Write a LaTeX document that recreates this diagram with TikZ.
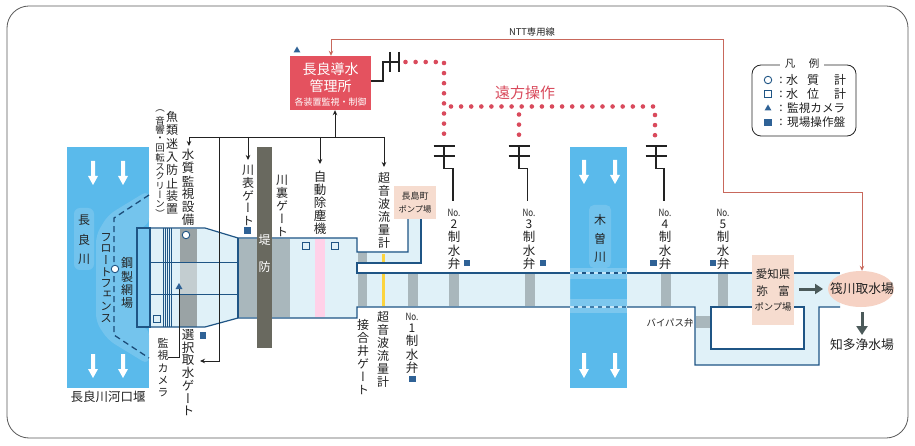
\documentclass[tikz,border=0pt]{standalone}
\usepackage{fontspec}
\setmainfont{Noto Sans CJK JP}
\newfontfamily\cjkv[RawFeature={+vert}]{Noto Sans CJK JP}
\usetikzlibrary{arrows.meta,calc,shapes.geometric}
\definecolor{river}{HTML}{5ABAEB}
\definecolor{riverlt}{HTML}{8BCDF0}
\definecolor{water}{HTML}{E0F1F8}
\definecolor{pipe}{HTML}{1F5585}
\definecolor{navy}{HTML}{2F6296}
\definecolor{gatebar}{HTML}{A9B7BC}
\definecolor{gatedark}{HTML}{9AA3A5}
\definecolor{dike}{HTML}{69695F}
\definecolor{office}{HTML}{E4525F}
\definecolor{pump}{HTML}{F6DCCF}
\definecolor{intake}{HTML}{F6D2C4}
\definecolor{ntt}{HTML}{C8685C}
\definecolor{remote}{HTML}{D94A5C}
\definecolor{ink}{HTML}{222222}
\definecolor{darrow}{HTML}{4C5A5A}
\newlength\vspitch
\def\vsloop#1{\ifx#1\vsend\else\vbox to\vspitch{\vss\hbox to 1.6em{\hss#1\hss}\vss}\expandafter\vsloop\fi}
\newcommand\vstack[2]{\setlength\vspitch{#1pt}\vbox{\offinterlineskip\vsloop#2\vsend}}
% name, x, centre y of first glyph, pitch, size, text
\newcommand\vlab[6]{\node[vlabel,yshift=#4pt/2] (#1) at (#2,#3) {\fontsize{#5pt}{#5pt}\selectfont\cjkv\vstack{#4}{#6}};}
\tikzset{
 vlabel/.style={anchor=north,inner sep=0pt,text=ink},
 hlabel/.style={inner sep=0pt,text=ink,font=\fontsize{12pt}{12pt}\selectfont},
 nolabel/.style={inner sep=0pt,text=ink,font=\fontsize{10pt}{10pt}\selectfont,xscale=.8},
 pipeline/.style={draw=pipe,line width=1.2pt},
 ctrl/.style={draw=ink,line width=.8pt},
 ctrlarrow/.style={ctrl,-{Stealth[length=5pt,width=4.5pt]}},
 dots/.style={draw=remote,line width=4.6pt,line cap=round,dash pattern=on 0pt off 10.1pt},
 panel/.style={fill=navy,draw=none,minimum size=6.5pt,inner sep=0pt},
 lvl/.style={draw=pipe,line width=.9pt,fill=none,minimum size=7pt,inner sep=0pt},
 qual/.style={circle,draw=pipe,line width=.9pt,fill=white,minimum size=7.5pt,inner sep=0pt},
 cam/.style={fill=navy,draw=none,regular polygon,inner sep=0pt},
 radio/.style={draw=ink,line width=1.1pt},
}
\newcommand\downarrowshape[3]{\fill[white] (#1-2,#2) -- (#1+2,#2) -- (#1+2,#3-9) -- (#1+5,#3-9) -- (#1,#3) -- (#1-5,#3-9) -- (#1-2,#3-9) -- cycle;}
\begin{document}
\begin{tikzpicture}[x=1pt,y=-1pt]
\useasboundingbox (0,0) rectangle (915,446);
\fill[white] (0,0) rectangle (915,446);
\draw[draw=gray!70!black,line width=.8pt,rounded corners=22pt] (7,6) rectangle (908,438);

% rivers
\fill[river] (67,147) rectangle (149,388);
\fill[riverlt,opacity=.5,rounded corners=6pt] (74,208) rectangle (94,270);
\fill[riverlt,opacity=.55,rounded corners=8pt] (149,190) -- (108,215) -- (96,235) -- (96,322) -- (108,340) -- (149,365) -- (149,327) -- (136,327) -- (136,228) -- (149,226) -- cycle;
\fill[river] (570,147) rectangle (627,388);
\fill[riverlt,opacity=.5,rounded corners=5pt] (589,205) rectangle (611,268);
\fill[riverlt,opacity=.7] (570,268) rectangle (627,279);
\fill[riverlt,opacity=.7] (570,299) rectangle (627,313);
\downarrowshape{93}{161}{185}
\downarrowshape{123}{161}{185}
\downarrowshape{93}{354}{378}
\downarrowshape{123}{354}{378}
\downarrowshape{584}{160}{184}
\downarrowshape{615}{160}{184}
\downarrowshape{584}{353}{378}
\downarrowshape{615}{353}{378}

% water bodies
\fill[riverlt,opacity=.6] (137,229) rectangle (150,327);
\fill[water] (150,229) -- (205,229) -- (238,238) -- (357,238) -- (357,251) -- (408,251) -- (408,219) -- (421,219) -- (421,262) -- (357,262) -- (357,273) -- (570,273) -- (570,307) -- (357,307) -- (357,318) -- (238,318) -- (205,327) -- (150,327) -- cycle;
\fill[water] (627,273) -- (752,273) -- (752,325) -- (794,325) -- (794,273) -- (840,273) -- (840,307) -- (819,307) -- (819,365) -- (695,365) -- (695,307) -- (627,307) -- cycle;
\fill[white] (711,307) rectangle (804,349);

% gates
\fill[gatedark] (180,229) rectangle (197,262);
\fill[gatebar!70] (180,262) rectangle (197,294);
\fill[gatedark] (180,294) rectangle (197,327);
\fill[gatebar] (239,239) rectangle (257,317);
\fill[gatebar] (272,239) rectangle (290,317);
\fill[pink!80!magenta!45] (315,239) rectangle (325,317);
\fill[gatebar] (358,252) rectangle (367,262);
\fill[gatebar] (358,274) rectangle (367,306);
\fill[yellow!60!orange!75] (381.5,254) rectangle (384.5,262);
\fill[yellow!60!orange!75] (381.5,274) rectangle (384.5,306);
\foreach \x in {408,449,525,661,718}{\fill[gatebar] (\x,274) rectangle (\x+9.5,306);}
\fill[gatebar] (696,316) rectangle (710,328);

% structure outlines
\draw[pipeline] (137,228) rectangle (150,327);
\draw[pipeline] (150,228) -- (205,228) -- (238,238) -- (357,238) -- (357,252) -- (408,252) -- (408,219);
\draw[pipeline] (421,219) -- (421,263) -- (357,263) -- (357,273) -- (752,273);
\draw[pipeline] (150,327) -- (205,327) -- (238,318) -- (357,318) -- (357,307) -- (695,307) -- (695,365) -- (819,365) -- (819,307) -- (840,307);
\draw[pipeline] (794,273) -- (840,273);
\draw[pipeline] (752,307) -- (711,307) -- (711,349) -- (804,349) -- (804,307) -- (794,307);
\draw[pipeline] (238,238) -- (238,318);
\draw[pipeline,line width=.9pt] (150,262) -- (238,262);
\draw[pipeline,line width=.9pt] (150,294) -- (238,294);
\foreach \x in {163,165,167,169,171}{\draw[draw=pipe,line width=.6pt] (\x,228) -- (\x,327);}
% river crossing: dashed parts
\draw[riverlt!50!white,line width=2pt,dash pattern=on 4pt off 4pt] (570,273) -- (627,273);
\draw[riverlt!50!white,line width=2pt,dash pattern=on 4pt off 4pt] (570,307) -- (627,307);
% dike
\fill[dike] (257,147) rectangle (272,348);
\node[inner sep=0pt,text=white,font=\fontsize{12pt}{12pt}\selectfont] (dike1) at (264.5,240) {堤};
\node[inner sep=0pt,text=white,font=\fontsize{12pt}{12pt}\selectfont] (dike2) at (264.5,267) {防};

% fence
\draw[draw=pipe!90!black,line width=1.3pt,dash pattern=on 6pt off 4pt] (149,195) -- (114,218) -- (114,335) -- (149,358);
\node[qual] (fencept) at (115,269) {};

% pump stations / intake
\node[fill=pump,minimum width=42pt,minimum height=33pt,inner sep=0pt] (nagashima) at (415,202.5) {};
\node[hlabel,font=\fontsize{9pt}{9pt}\selectfont] (nagashima1) at (415,196.5) {長島町};
\node[hlabel,font=\fontsize{8.3pt}{8.3pt}\selectfont] (nagashima2) at (415,209.5) {ポンプ場};
\node[fill=pump,minimum width=42pt,minimum height=70pt,inner sep=0pt] (yatomi) at (773,290) {};
\node[hlabel,font=\fontsize{11.5pt}{11.5pt}\selectfont] (yatomi1) at (773,274) {愛知県};
\node[hlabel,font=\fontsize{11.5pt}{11.5pt}\selectfont] (yatomi2) at (773,291) {弥\hspace{.9em}富};
\node[hlabel,font=\fontsize{9.3pt}{9.3pt}\selectfont] (yatomi3) at (773,307) {ポンプ場};
\node[ellipse,fill=intake,minimum width=66pt,minimum height=36pt,inner sep=0pt] (intakeplant) at (861,289) {};
\node[hlabel,font=\fontsize{12.8pt}{12.8pt}\selectfont] (intaketxt) at (862,289) {筏川取水場};
\node[hlabel,font=\fontsize{12.8pt}{12.8pt}\selectfont] (chita) at (862,345) {知多浄水場};
\coordinate (ya) at (799,289);\coordinate (yb) at (823,289);
\draw[draw=darrow,line width=3pt,-{Triangle[length=8pt,width=10pt]}] (ya) -- (yb);
\coordinate (ia) at (862,312);\coordinate (ib) at (862,335);
\draw[draw=darrow,line width=3pt,-{Triangle[length=9pt,width=11pt]}] (ia) -- (ib);

% office
\node[fill=office,minimum width=81pt,minimum height=54pt,inner sep=0pt] (office) at (330.5,83) {};
\node[inner sep=0pt,text=white,font=\fontsize{14pt}{14pt}\selectfont] (office1) at (330.5,69) {長良導水};
\node[inner sep=0pt,text=white,font=\fontsize{14pt}{14pt}\selectfont] (office2) at (330.5,86) {管理所};
\node[inner sep=0pt,text=white,font=\fontsize{9pt}{9pt}\selectfont] (office3) at (330.5,102) {各装置監視・制御};
\node[cam,regular polygon sides=3,minimum size=8pt] (officecam) at (297,50.5) {};

% NTT line
\coordinate (n1) at (331,39);\coordinate (n2) at (723,39);\coordinate (n3) at (723,192);\coordinate (n4) at (862,192);
\draw[draw=ntt,line width=.9pt,{Stealth[length=5pt,width=4.5pt]}-{Stealth[length=5pt,width=4.5pt]}] (office.north -| n1) -- (n1) -- (n2) -- (n3) -- (n4) -- (intakeplant.north -| n4);
\node[inner sep=0pt,text=ink,font=\fontsize{9.3pt}{9.3pt}\selectfont] (nttlabel) at (532,32) {NTT専用線};

% control bus
\coordinate (b0) at (189,137);\coordinate (b1) at (384,137);\coordinate (bup) at (335,137);
\coordinate (bg) at (219,137);\coordinate (bgd) at (219,361);\coordinate (bge) at (200,361);
\draw[ctrl] (b0) -- (b1);
\coordinate (bwq) at (189,146);\coordinate (bsg) at (248,160);\coordinate (bsgt) at (248,137);\coordinate (bdt) at (320,137);\coordinate (bdb) at (320,164);\coordinate (bus) at (384,167);
\draw[ctrlarrow] (b0) -- (bwq);
\draw[ctrlarrow] (bsgt) -- (bsg);
\draw[ctrlarrow] (bdt) -- (bdb);
\draw[ctrlarrow] (b1) -- (bus);
\draw[ctrlarrow] (bup) -- (office.south -| bup);
\draw[ctrlarrow] (bg) -- (bgd) -- (bge);

% camera + leader
\node[cam,regular polygon sides=3,minimum size=8pt] (strcam) at (179,287) {};
\coordinate (cm1) at (179,357);\coordinate (cm2) at (168,357);
\draw[draw=ink,line width=.6pt] (strcam.south) -- (cm1) -- (cm2);

% symbols in the plan
\node[qual] (wq) at (186,235) {};
\node[lvl] (lv1) at (156.5,319) {};
\node[lvl] (lv2) at (306,246) {};
\node[lvl] (lv3) at (335,246) {};
\node[panel] (p1) at (203,335.5) {};
\node[panel] (p2) at (247.5,230.5) {};
\node[panel] (p3) at (467,263) {};
\node[panel] (p4) at (543,263) {};
\node[panel] (p5) at (412.5,379) {};
\node[panel] (p6) at (653.5,263) {};
\node[panel] (p7) at (713,263) {};

% radio mast at office
\coordinate (r1) at (383,81);\coordinate (r2) at (383,62);\coordinate (r3) at (399,62);
\draw[radio] (office.east |- r1) -- (r1) -- (r2) -- (r3);
\coordinate (ra) at (390,52);\coordinate (rb) at (390,72);\coordinate (rc) at (399,52);\coordinate (rd) at (399,72);
\draw[radio] (ra) -- (rb);
\draw[radio] (rc) -- (rd);

% remote operation dots
\coordinate (d0) at (405.5,62);\coordinate (d1) at (444,62);\coordinate (d1b) at (444,63);\coordinate (d2) at (444,135);
\coordinate (e0) at (451,106.5);\coordinate (e1) at (654,106.5);\coordinate (e2) at (655,136);\coordinate (e3) at (655,115);
\coordinate (f0) at (519,114.5);\coordinate (f1) at (519,135.5);
\draw[dots] (d0) -- (d1);
\draw[dots] (d1b) -- (d2);
\draw[dots] (e0) -- (e1);
\draw[dots] (e3) -- (e2);
\draw[dots] (f0) -- (f1);
\node[inner sep=0pt,text=remote,font=\fontsize{15pt}{15pt}\selectfont] (remotetxt) at (525,93) {遠方操作};

% valve masts
\foreach \n/\xa/\xb/\yt in {a/444/453/201,b/519/527.5/201,c/656/664/201}{
  \coordinate (m\n1) at (\xa-10.5,146);\coordinate (m\n2) at (\xa+10.5,146);
  \coordinate (m\n3) at (\xa-10.5,156);\coordinate (m\n4) at (\xa+10.5,156);
  \coordinate (m\n5) at (\xa,146);\coordinate (m\n6) at (\xa,168.5);\coordinate (m\n7) at (\xb,168.5);\coordinate (m\n8) at (\xb,\yt);
  \draw[radio] (m\n1) -- (m\n2);
  \draw[radio] (m\n3) -- (m\n4);
  \draw[radio] (m\n5) -- (m\n6) -- (m\n7) -- (m\n8);
}

% labels
\vlab{nagara}{84}{220}{19.7}{12}{長良川}
\vlab{kiso}{600}{220}{18.5}{12}{木曽川}
\vlab{float}{106}{237}{11.6}{11.5}{フロートフェンス}
\vlab{net}{127}{263}{13.3}{12}{鋼製網場}
\vlab{screen}{172}{117}{13.2}{12}{魚類迷入防止装置}
\vlab{screen2}{160}{111}{9.3}{9.5}{（音響・回転スクリーン）}
\vlab{wql}{188}{155}{13}{12.5}{水質監視設備}
\vlab{surf}{248}{170}{12.6}{12}{川表ゲート}
\vlab{back}{282}{180}{13}{12}{川裏ゲート}
\vlab{dust}{320}{177}{13}{12.5}{自動除塵機}
\vlab{flowa}{384}{178}{13}{12}{超音波流量計}
\vlab{flowb}{383}{317}{13}{12}{超音波流量計}
\vlab{junc}{363}{325}{13}{12}{接合井ゲート}
\vlab{camt}{163}{343}{12.4}{11}{監視カメラ}
\vlab{sel}{188}{335}{12.6}{12.5}{選択取水ゲート}
\node[hlabel,font=\fontsize{12.5pt}{12.5pt}\selectfont] (weir) at (108,397) {長良川河口堰};
\node[hlabel,font=\fontsize{9.4pt}{9.4pt}\selectfont] (bypass) at (670,323) {バイパス弁};
% valve labels
\foreach \nm/\x/\y/\d in {one/412/317/1,two/454/213/2,three/529/213/3,four/665/213/4,five/723/213/5}{
  \node[nolabel] (\nm a) at (\x,\y) {No.};
  \node[hlabel] (\nm b) at (\x,\y+11) {\d};
  \vlab{\nm c}{\x}{\y+24}{13.5}{12.5}{制水弁}
}

% legend
\node[draw=ink,line width=.8pt,rounded corners=9pt,minimum width=104pt,minimum height=71pt,inner sep=0pt] (legend) at (804,100.5) {};
\node[fill=white,minimum width=44pt,minimum height=8pt,inner sep=0pt] (legtitlebg) at (802,65) {};
\node[hlabel,font=\fontsize{10.5pt}{10.5pt}\selectfont] (leg1) at (790,64) {凡};
\node[hlabel,font=\fontsize{10.5pt}{10.5pt}\selectfont] (leg2) at (814,64) {例};
\node[qual] (ls1) at (768,80) {};
\node[lvl] (ls2) at (768,94) {};
\node[cam,regular polygon sides=3,minimum size=8pt] (ls3) at (768,108.5) {};
\node[panel,minimum size=7.5pt] (ls4) at (768,122.5) {};
\foreach \yy/\i in {80/a,94/b,108/c,122.5/d}{\node[hlabel] (lc\i) at (781,\yy) {:};}
\node[hlabel] (q1) at (792,80) {水};\node[hlabel] (q2) at (813,80) {質};\node[hlabel] (q3) at (840,80) {計};
\node[hlabel] (v1) at (792,94) {水};\node[hlabel] (v2) at (813,94) {位};\node[hlabel] (v3) at (840,94) {計};
\node[hlabel,anchor=west,font=\fontsize{11.6pt}{11.6pt}\selectfont] (c1) at (787,108) {監視カメラ};
\node[hlabel,anchor=west,font=\fontsize{11.6pt}{11.6pt}\selectfont] (c2) at (787,122.5) {現場操作盤};
\end{tikzpicture}
\end{document}
